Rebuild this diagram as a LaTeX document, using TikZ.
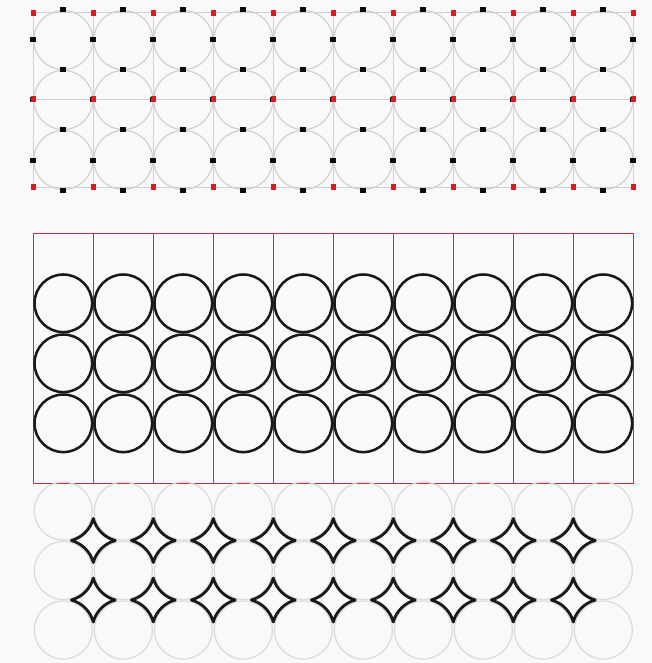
\documentclass[tikz,border=0pt]{standalone}
\definecolor{bg}{RGB}{249,249,249}
\definecolor{gridgray}{RGB}{208,208,208}
\definecolor{ringgray}{RGB}{218,218,218}
\definecolor{frameRed}{RGB}{216,40,50}
\definecolor{reddot}{RGB}{228,22,32}
\definecolor{darkdot}{RGB}{12,12,12}
\tikzset{
  gridline/.style={draw=gridgray,line width=0.9pt},
  ringline/.style={draw=ringgray,line width=0.9pt},
  redbar/.style={fill=frameRed},
  cellcircle/.style={draw=black!90,line width=1.9pt},
  starline/.style={draw=black!90,line width=2.1pt,line join=round},
  blackdot/.style={fill=darkdot},
  reddotstyle/.style={fill=reddot}
}
\begin{document}
\begin{tikzpicture}[x=0.75pt,y=-0.75pt]
\fill[bg] (0,0) rectangle (652,663);
\useasboundingbox (0,0) rectangle (652,663);

% ---------- top section ----------
\foreach \k in {0,...,9}{
  \foreach \cy in {40,100,160}{
    \draw[gridline] ({63.3+60*\k},\cy) circle[radius=29.5];
  }
}
\foreach \j in {0,...,10}{
  \draw[gridline] ({33.3+60*\j},12.7) -- ({33.3+60*\j},187.3);
}
\foreach \y in {12.7,99.3,187.3}{
  \draw[gridline] (33.3,\y) -- (633.3,\y);
}
% black dots on circle tops / bottoms
\foreach \k in {0,...,9}{
  \foreach \y in {9.5,70,129.5,190.5}{
    \fill[blackdot] ({63.3+60*\k-3},{\y-2.5}) rectangle ({63.3+60*\k+3},{\y+2.5});
  }
}
% black dots on circle sides
\foreach \j in {0,...,10}{
  \foreach \y in {40,160}{
    \fill[blackdot] ({33.3+60*\j-3},{\y-2.5}) rectangle ({33.3+60*\j+3},{\y+2.5});
  }
  \fill[blackdot] ({33.3+60*\j-3.5},{100-2.5}) rectangle ({33.3+60*\j+2},{100+2.5});
}
% red corner dots
\foreach \j in {0,...,10}{
  \foreach \y in {12.7,99.3,187.3}{
    \fill[reddotstyle] ({33.3+60*\j-2},{\y-3}) rectangle ({33.3+60*\j+2.2},{\y+3});
  }
}

% ---------- middle section: red frame (as thin filled bars) ----------
\foreach \j in {0,...,10}{
  \fill[redbar] ({33.3+60*\j-0.8},232.5) rectangle ({33.3+60*\j+0.8},484.1);
}
\foreach \y in {233.3,483.3}{
  \fill[redbar] (32.5,{\y-0.8}) rectangle (634.1,{\y+0.8});
}
\foreach \k in {0,...,9}{
  \foreach \cy in {303.3,363.3,423.3}{
    \draw[cellcircle] ({63.3+60*\k},\cy) circle[radius=28.8];
  }
}

% ---------- bottom section ----------
\foreach \k in {0,...,9}{
  \foreach \cy in {511,570.5,630}{
    \draw[ringline] ({63.3+60*\k},\cy) circle[radius=29];
  }
}
\foreach \k in {0,...,8}{
  \foreach \sy in {540.5,600}{
    \draw[starline] ({93.3+60*\k-22},\sy)
      arc[start angle=75.07,end angle=14.93,radius=31.05]
      arc[start angle=165.07,end angle=104.93,radius=31.05]
      arc[start angle=255.07,end angle=194.93,radius=31.05]
      arc[start angle=345.07,end angle=284.93,radius=31.05] -- cycle;
  }
}
\end{tikzpicture}
\end{document}
